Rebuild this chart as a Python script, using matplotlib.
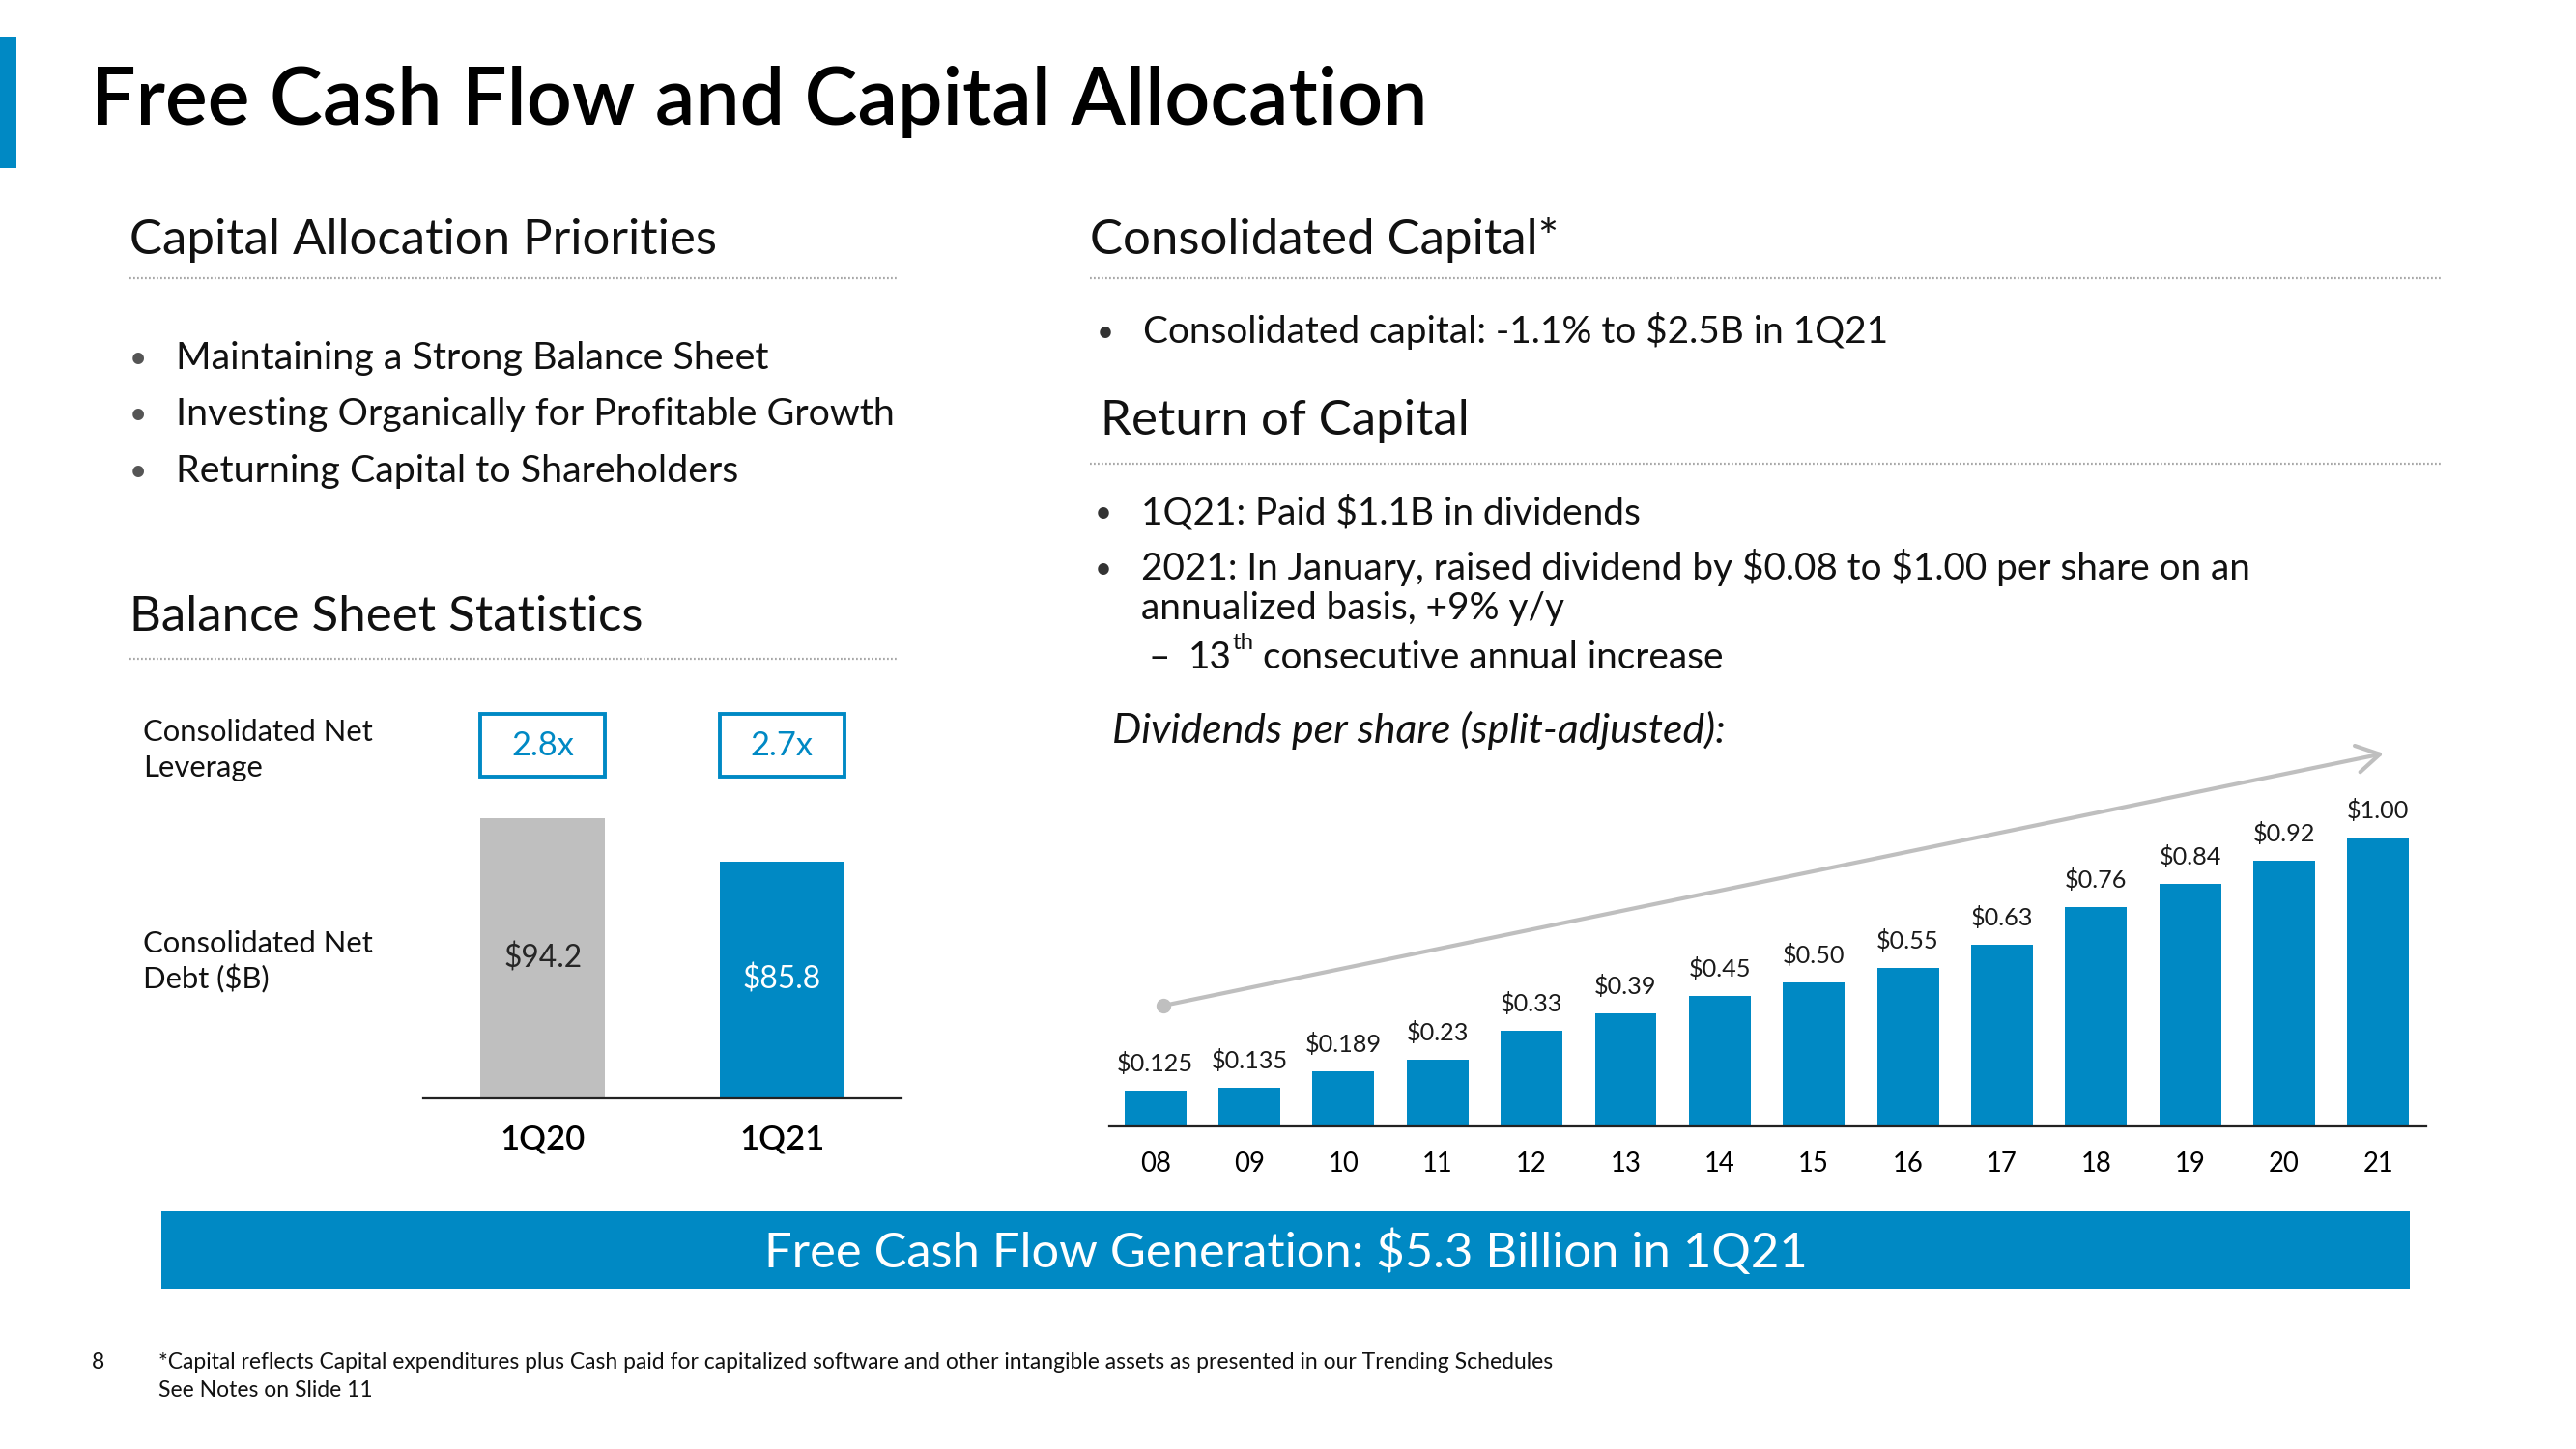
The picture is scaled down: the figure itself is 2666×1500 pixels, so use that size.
import matplotlib
matplotlib.use('Agg')
import matplotlib.pyplot as plt
from matplotlib.patches import Rectangle
from matplotlib.transforms import blended_transform_factory

# ---------------- data ----------------
bs_periods = ['1Q20', '1Q21']
bs_net_debt = [94.2, 85.8]
bs_debt_labels = ['$94.2', '$85.8']
bs_leverage = ['2.8x', '2.7x']

div_years = ['08', '09', '10', '11', '12', '13', '14', '15', '16', '17', '18', '19', '20', '21']
div_values = [0.125, 0.135, 0.189, 0.23, 0.33, 0.39, 0.45, 0.50, 0.55, 0.63, 0.76, 0.84, 0.92, 1.00]
div_labels = ['$0.125', '$0.135', '$0.189', '$0.23', '$0.33', '$0.39', '$0.45', '$0.50',
              '$0.55', '$0.63', '$0.76', '$0.84', '$0.92', '$1.00']

left_bullets = ['Maintaining a Strong Balance Sheet',
                'Investing Organically for Profitable Growth',
                'Returning Capital to Shareholders']

# ---------------- style ----------------
W, H, DPI = 2666, 1500, 100
BLUE = '#0089C4'
GRAY = '#BFBFBF'
TXT = '#111111'
DOT = '#A8A8A8'
FONT = 'Lato'
plt.rcParams['font.family'] = [FONT, 'DejaVu Sans']
plt.rcParams['text.parse_math'] = False

fig = plt.figure(figsize=(W / DPI, H / DPI), dpi=DPI)
bg = fig.add_axes([0, 0, 1, 1])
bg.set_xlim(0, W)
bg.set_ylim(H, 0)
bg.axis('off')
R = fig.canvas.get_renderer()


def fit(s, target_w, **kw):
    t = bg.text(0, 0, s, fontsize=20, **kw)
    w = t.get_window_extent(R).width
    t.remove()
    return 20 * target_w / w


def txt(x, y, s, size, ax=bg, va='baseline', ha='left', color=TXT, **kw):
    return ax.text(x, y, s, fontsize=size, va=va, ha=ha, color=color, **kw)


def dotted(x0, x1, y):
    bg.plot([x0, x1], [y, y], color=DOT, lw=1.6, linestyle=(0, (0.8, 1.0)),
            solid_capstyle='butt')


def bullet(x, y, size, color='#555555'):
    txt(x, y - size * 0.06, '\u2022', size * 0.8, color=color)


# sizes
S_TITLE = fit('Free Cash Flow and Capital Allocation', 1382, weight='semibold')
S_HEAD = fit('Capital Allocation Priorities', 609)
S_BUL = fit('Investing Organically for Profitable Growth', 745)
S_RBODY = fit('2021: In January, raised dividend by $0.08 to $1.00 per share on an', 1151)
S_LAB = fit('Consolidated Net', 238)
S_ITAL = fit('Dividends per share (split-adjusted):', 633, style='italic')
S_BAN = fit('Free Cash Flow Generation: $5.3 Billion in 1Q21', 1081)
S_FOOT = fit('*Capital reflects Capital expenditures plus Cash paid for capitalized software '
             'and other intangible assets as presented in our Trending Schedules', 1442)
S_BOX = fit('2.8x', 65)
S_VAL = fit('$94.2', 81)
S_PER = fit('1Q20', 88, weight='semibold')
S_DIVL = fit('$0.125', 79)
S_TICK = fit('08', 32)

# ---------------- header ----------------
bg.add_patch(Rectangle((0, 38), 17, 136, color=BLUE, lw=0))
txt(94, 129, 'Free Cash Flow and Capital Allocation', S_TITLE, weight='semibold',
    color='#000000')

# ---------------- left column ----------------
txt(134, 263, 'Capital Allocation Priorities', S_HEAD)
dotted(134, 930, 288)
for s, yb in zip(left_bullets, [382, 440, 499]):
    bullet(134, yb, S_BUL)
    txt(182, yb, s, S_BUL)

txt(134, 653, 'Balance Sheet Statistics', S_HEAD)
dotted(134, 930, 682)

txt(148, 767, 'Consolidated Net', S_LAB)
txt(148, 804, 'Leverage', S_LAB)
txt(148, 986, 'Consolidated Net', S_LAB)
txt(148, 1023, 'Debt ($B)', S_LAB)

# balance-sheet bar chart: axes spans x 438..933 px, y 700..1137 px
ax1 = fig.add_axes([438 / W, 1 - 1137 / H, (933 - 438) / W, (1137 - 700) / H])
ybase = 40.0
ax1.set_xlim(-0.5, 1.5)
ax1.set_ylim(ybase, ybase + 437 / 5.35)
ax1.bar([0, 1], [v - ybase for v in bs_net_debt], bottom=ybase, width=0.523,
        color=[GRAY, BLUE], lw=0)
for sp in ['top', 'right', 'left']:
    ax1.spines[sp].set_visible(False)
ax1.spines['bottom'].set_color('#222222')
ax1.spines['bottom'].set_linewidth(1.6)
ax1.set_yticks([])
ax1.set_xticks([0, 1], bs_periods)
ax1.tick_params(axis='x', length=0, pad=19, labelsize=S_PER, colors='#000000')
for lab in ax1.get_xticklabels():
    lab.set_fontweight('semibold')
for i, (v, s) in enumerate(zip(bs_net_debt, bs_debt_labels)):
    ax1.text(i, (ybase + v) / 2, s, ha='center', va='center', fontsize=S_VAL,
             color='#262626' if i == 0 else 'white')
# leverage boxes
bt = blended_transform_factory(ax1.transData, ax1.transAxes)
for i, s in enumerate(bs_leverage):
    y0 = (1137 - 804) / 437
    y1 = (1137 - 739) / 437
    ax1.add_patch(Rectangle((i - 0.2615, y0), 0.523, y1 - y0, transform=bt,
                            fill=False, edgecolor=BLUE, lw=2.8, clip_on=False))
    ax1.text(i, (1137 - 782) / 437, s, transform=bt, ha='center', va='baseline',
             fontsize=S_BOX, color=BLUE, clip_on=False)

# ---------------- right column ----------------
txt(1128, 263, 'Consolidated Capital*', S_HEAD)
dotted(1128, 2528, 288)
bullet(1135, 355, S_RBODY, '#333333')
txt(1183, 355, 'Consolidated capital: -1.1% to $2.5B in 1Q21', S_RBODY)

txt(1139, 450, 'Return of Capital', S_HEAD)
dotted(1128, 2528, 480)
bullet(1133, 542, S_RBODY, '#333333')
txt(1181, 542, '1Q21: Paid $1.1B in dividends', S_RBODY)
bullet(1133, 600, S_RBODY, '#333333')
txt(1181, 600, '2021: In January, raised dividend by $0.08 to $1.00 per share on an', S_RBODY)
txt(1181, 641, 'annualized basis, +9% y/y', S_RBODY)
txt(1189, 692, '\u2013', S_RBODY)
t13 = txt(1230, 692, '13', S_RBODY)
w13 = t13.get_window_extent(R).width
tth = txt(1230 + w13 + 1, 672, 'th', S_RBODY * 0.62)
wth = tth.get_window_extent(R).width
txt(1230 + w13 + wth + 10, 692, 'consecutive annual increase', S_RBODY)

txt(1151, 769, 'Dividends per share (split-adjusted):', S_ITAL, style='italic')

# dividend bar chart: axes spans x 1148..2511 px, y 780..1166 px
ax2 = fig.add_axes([1148 / W, 1 - 1166 / H, (2511 - 1148) / W, (1166 - 780) / H])
xs = list(range(len(div_values)))
ax2.bar(xs, div_values, width=0.657, color=BLUE, lw=0)
ax2.set_xlim(-0.49, 13.51)
ax2.set_ylim(0, 386 / 299)
for sp in ['top', 'right', 'left']:
    ax2.spines[sp].set_visible(False)
ax2.spines['bottom'].set_color('#222222')
ax2.spines['bottom'].set_linewidth(1.6)
ax2.set_yticks([])
ax2.set_xticks(xs, div_years)
ax2.tick_params(axis='x', length=0, pad=19, labelsize=S_TICK, colors='#000000')
for x, v, s in zip(xs, div_values, div_labels):
    ax2.annotate(s, (x, v), xytext=(0, 14.4), textcoords='offset points',
                 ha='center', va='baseline', fontsize=S_DIVL, color='#1a1a1a')

# trend arrow (decoration)
x0f, y0f = (1204 - 1148) / 1363, (1166 - 1041) / 386
x1f, y1f = (2467 - 1148) / 1363, (1166 - 780) / 386
ax2.annotate('', xy=(x1f, y1f), xytext=(x0f, y0f), xycoords='axes fraction',
             textcoords='axes fraction',
             arrowprops=dict(arrowstyle='->,head_length=0.85,head_width=0.5',
                             color=GRAY, lw=3.0, mutation_scale=20,
                             shrinkA=0, shrinkB=0), annotation_clip=False)
ax2.plot([x0f], [y0f], 'o', transform=ax2.transAxes, color=GRAY, ms=11,
         clip_on=False, mew=0)

# ---------------- banner & footer ----------------
bg.add_patch(Rectangle((167, 1254), 2494 - 167, 1334 - 1254, color=BLUE, lw=0))
txt(1331, 1312, 'Free Cash Flow Generation: $5.3 Billion in 1Q21', S_BAN, ha='center',
    color='white')

txt(95, 1417, '8', S_FOOT)
txt(164, 1417, '*Capital reflects Capital expenditures plus Cash paid for capitalized software '
    'and other intangible assets as presented in our Trending Schedules', S_FOOT)
txt(164, 1446, 'See Notes on Slide 11', S_FOOT)

fig.savefig('out.png', dpi=DPI)
